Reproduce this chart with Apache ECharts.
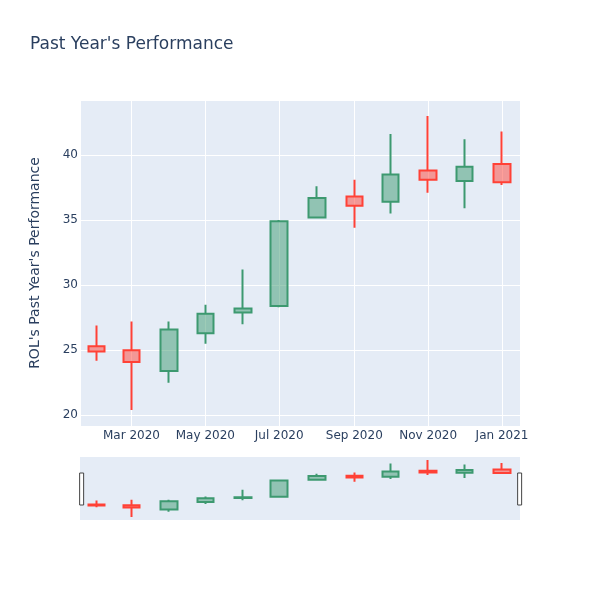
<!DOCTYPE html>
<html><head><meta charset="utf-8">
<script src="https://cdn.jsdelivr.net/npm/echarts@6/dist/echarts.min.js"></script>
<style>html,body{margin:0;padding:0;background:#fff}#c{width:600px;height:600px}</style>
</head><body><div id="c"></div>
<script>
const dates  = ['2020-02-01','2020-03-01','2020-04-01','2020-05-01','2020-06-01','2020-07-01',
                '2020-08-01','2020-09-01','2020-10-01','2020-11-01','2020-12-01','2021-01-01'];
const opens  = [25.3, 25.0, 23.4, 26.3, 27.9, 28.4, 35.2, 36.8, 36.4, 38.8, 38.0, 39.3];
const closes = [24.9, 24.1, 26.6, 27.8, 28.2, 34.9, 36.7, 36.1, 38.5, 38.1, 39.1, 37.9];
const lows   = [24.2, 20.4, 22.5, 25.5, 27.0, 28.3, 35.2, 34.4, 35.5, 37.1, 35.9, 37.7];
const highs  = [26.9, 27.2, 27.2, 28.5, 31.2, 35.0, 37.6, 38.1, 41.6, 43.0, 41.2, 41.8];
const monthNames = ['Jan','Feb','Mar','Apr','May','Jun','Jul','Aug','Sep','Oct','Nov','Dec'];
const yTickValues = [20, 25, 30, 35, 40];

const FONT = 'DejaVu Sans';
const TXT = '#2a3f5f';
const candleData = dates.map((d, i) => [d, opens[i], closes[i], lows[i], highs[i]]);
const xMin = +new Date(2020, 0, 18, 12);
const xMax = +new Date(2021, 0, 15, 20);
const yMin = 19.18, yMax = 44.22;
const DAY = 86400000;

const candleStyle = {
  color: 'rgba(61,153,112,0.5)',
  color0: 'rgba(255,65,54,0.5)',
  borderColor: '#3D9970',
  borderColor0: '#FF4136',
  borderWidth: 2
};

const chart = echarts.init(document.getElementById('c'), null, {renderer: 'canvas'});
chart.setOption({
  animation: false,
  backgroundColor: '#fff',
  textStyle: {fontFamily: FONT},
  title: {
    text: "Past Year's Performance",
    left: 30, top: 36, padding: 0,
    textStyle: {fontFamily: FONT, fontSize: 17, fontWeight: 'normal', color: TXT}
  },
  grid: [
    {left: 80, right: 80, top: 100, height: 326, show: true, backgroundColor: '#E5ECF6', borderWidth: 0},
    {left: 80, right: 80, top: 457, height: 63, show: true, backgroundColor: '#E5ECF6', borderWidth: 0}
  ],
  xAxis: [
    {
      type: 'time', gridIndex: 0, min: xMin, max: xMax,
      splitNumber: 5, minInterval: 55 * DAY, maxInterval: 75 * DAY,
      axisLine: {show: false}, axisTick: {show: false},
      splitLine: {show: true, lineStyle: {color: '#fff', width: 1}},
      axisLabel: {
        margin: 4, color: TXT, fontSize: 12, fontFamily: FONT,
        hideOverlap: false,
        formatter: v => { const d = new Date(v); return monthNames[d.getMonth()] + ' ' + d.getFullYear(); }
      }
    },
    {
      type: 'time', gridIndex: 1, min: xMin, max: xMax, show: false
    }
  ],
  yAxis: [
    {
      type: 'value', gridIndex: 0, min: yMin, max: yMax, splitNumber: 5,
      name: "ROL's Past Year's Performance", nameLocation: 'middle', nameGap: 38,
      nameTextStyle: {color: TXT, fontSize: 14, fontFamily: FONT},
      axisLine: {show: false}, axisTick: {show: false},
      splitLine: {show: true, lineStyle: {color: '#fff', width: 1}},
      axisLabel: {
        margin: 2, color: TXT, fontSize: 12, fontFamily: FONT,
        showMinLabel: false, showMaxLabel: false,
        formatter: v => yTickValues.indexOf(Math.round(v * 100) / 100) >= 0 ? String(Math.round(v)) : ''
      }
    },
    {type: 'value', gridIndex: 1, min: yMin, max: yMax, show: false}
  ],
  dataZoom: [{
    type: 'slider', xAxisIndex: [1], filterMode: 'none', start: 0, end: 100,
    left: 80, right: 80, top: 473, height: 32,
    backgroundColor: 'rgba(0,0,0,0)', borderColor: 'rgba(0,0,0,0)', fillerColor: 'rgba(0,0,0,0)',
    showDataShadow: false, showDetail: false, brushSelect: false, moveHandleSize: 0,
    handleIcon: 'path://M0,0 L4,0 L4,32 L0,32 Z', handleSize: '100%',
    handleStyle: {color: '#fff', borderColor: '#444', borderWidth: 1},
    emphasis: {handleStyle: {color: '#fff', borderColor: '#444', borderWidth: 1}},
    dataBackground: {lineStyle: {opacity: 0}, areaStyle: {opacity: 0}},
    selectedDataBackground: {lineStyle: {opacity: 0}, areaStyle: {opacity: 0}}
  }],
  series: [
    {
      type: 'candlestick', xAxisIndex: 0, yAxisIndex: 0,
      data: candleData, encode: {x: 0, y: [1, 2, 3, 4]},
      barWidth: 17, itemStyle: candleStyle
    },
    {
      type: 'candlestick', xAxisIndex: 1, yAxisIndex: 1,
      data: candleData, encode: {x: 0, y: [1, 2, 3, 4]},
      barWidth: 17, itemStyle: candleStyle
    }
  ]
});
</script>
</body></html>
